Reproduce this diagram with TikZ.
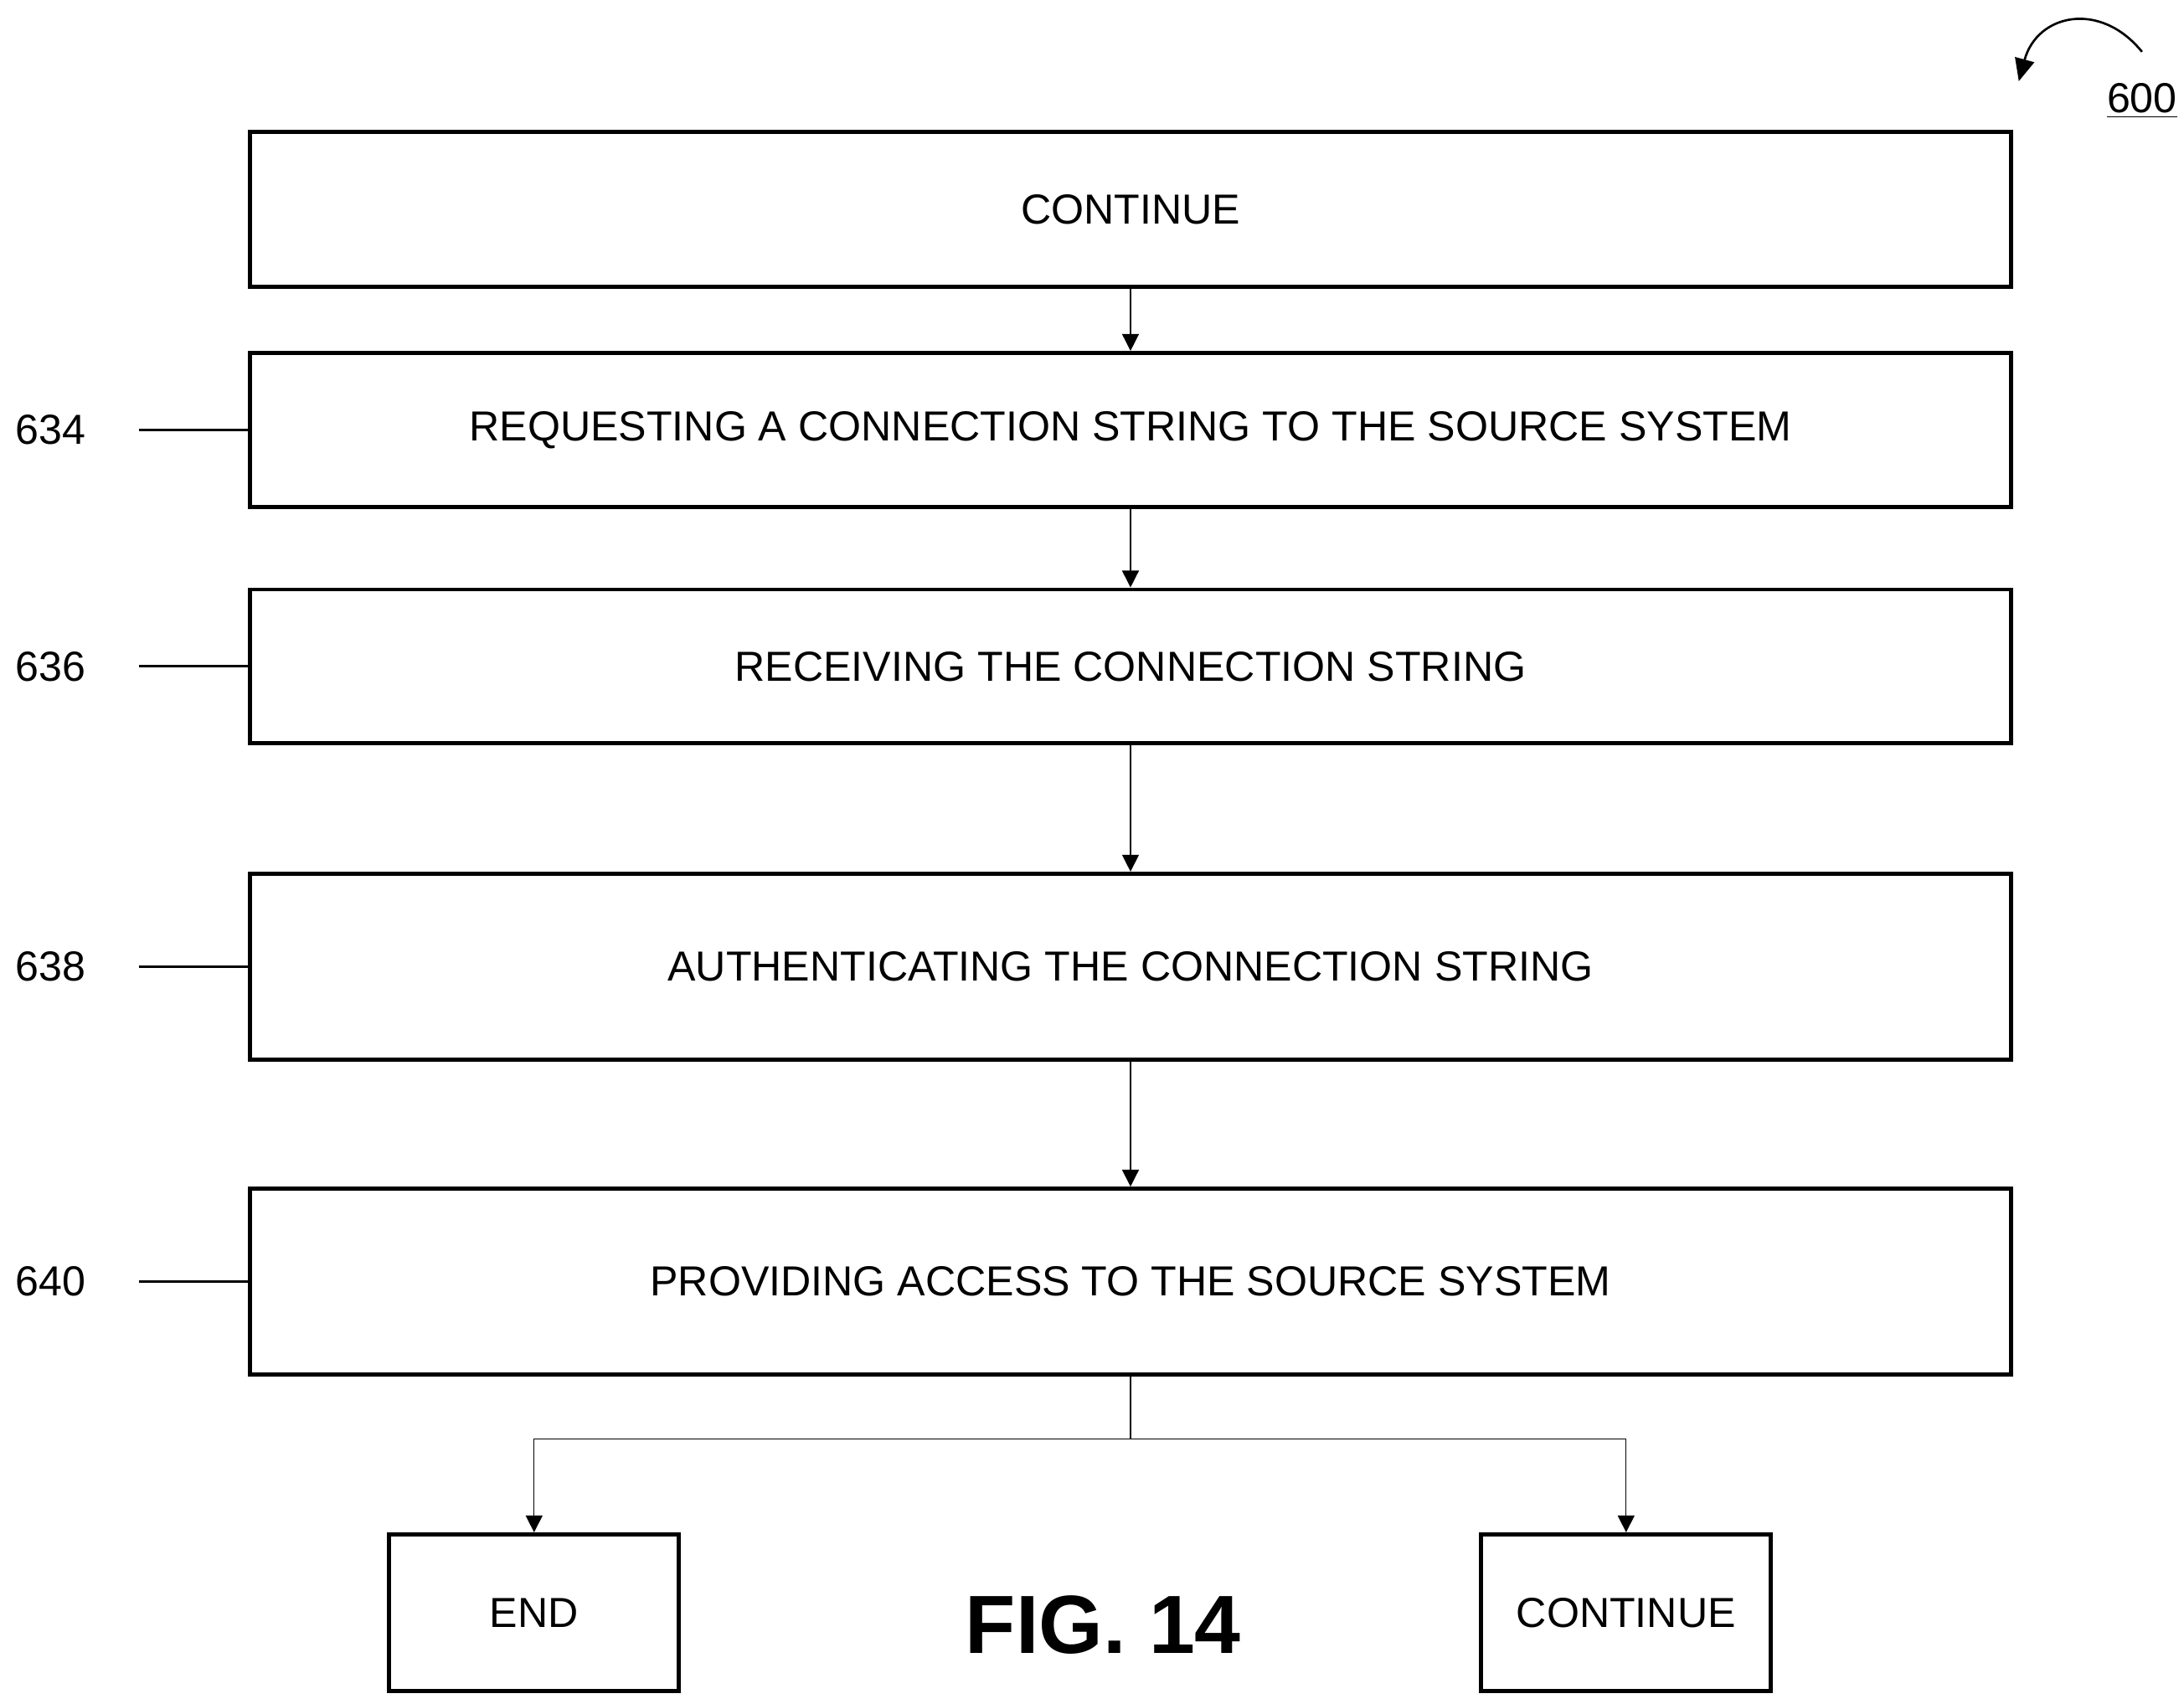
\documentclass[tikz,border=0pt]{standalone}
\usepackage{fontspec}
\setmainfont{Liberation Sans}
\usetikzlibrary{arrows.meta}
\begin{document}
\begin{tikzpicture}[x=0.5pt,y=0.5pt,yscale=-1,
  box/.style={draw,line width=1.4pt,inner sep=0pt,font=\fontsize{15}{17}\selectfont},
  flow/.style={draw,line width=0.4pt,-{Triangle[length=6pt,width=6pt]}},
  ref/.style={font=\fontsize{15}{17}\selectfont}]
\useasboundingbox (0,0) rectangle (1560,1217);

% Boxes
\node[box,minimum width=629pt,minimum height=55.5pt] (cont) at (807.5,149.5) {CONTINUE};
\node[box,minimum width=629pt,minimum height=55pt] (req) at (807.5,307) {REQUESTING A CONNECTION STRING TO THE SOURCE SYSTEM};
\node[box,minimum width=629pt,minimum height=55pt] (rec) at (807.5,476) {RECEIVING THE CONNECTION STRING};
\node[box,minimum width=629pt,minimum height=66.5pt] (auth) at (807.5,690.5) {AUTHENTICATING THE CONNECTION STRING};
\node[box,minimum width=629pt,minimum height=66.5pt] (prov) at (807.5,915.5) {PROVIDING ACCESS TO THE SOURCE SYSTEM};
\node[box,minimum width=103.5pt,minimum height=56pt] (end) at (381.5,1152) {END};
\node[box,minimum width=103.5pt,minimum height=56pt] (cont2) at (1161.5,1152) {CONTINUE};

% Connectors
\draw[flow] (cont) -- (req);
\draw[flow] (req) -- (rec);
\draw[flow] (rec) -- (auth);
\draw[flow] (auth) -- (prov);
\coordinate (split) at (807.5,1028);
\draw[line width=0.4pt] (prov) -- (split);
\draw[flow] (split) -| (end);
\draw[flow] (split) -| (cont2);

% Reference numerals
\foreach \n/\y/\b in {634/307/req,636/476/rec,638/690.5/auth,640/915.5/prov}{
  \node[ref] (l\n) at (36,\y) {\n};
  \coordinate (t\n) at (99,\y);
  \draw[line width=0.8pt] (t\n) -- (\b.west);
}

\node[ref] (n600) at (1530,72) {\underline{600}};
\coordinate (a600) at (1530,37);
\coordinate (b600) at (1442,58);
\draw[line width=0.8pt,-{Triangle[length=8pt,width=7pt]}] (a600) .. controls (1500,0) and (1455,10) .. (b600);

\node[font=\bfseries\fontsize{29.5}{32}\selectfont] (fig) at (788,1161) {FIG. 14};
\end{tikzpicture}
\end{document}
